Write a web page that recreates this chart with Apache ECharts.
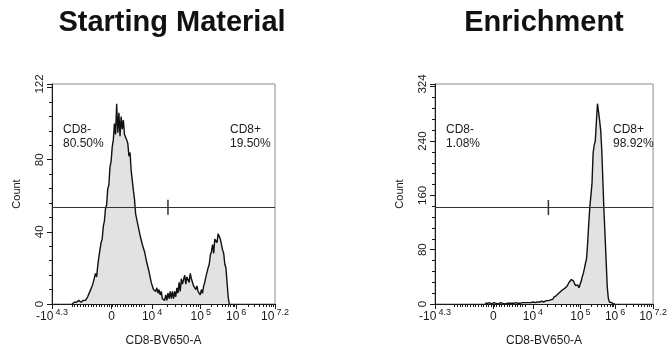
<!DOCTYPE html>
<html lang="en">
<head>
    <meta charset="UTF-8">
    <title>CD8 histograms</title>
    <script src="https://cdn.jsdelivr.net/npm/echarts@6/dist/echarts.min.js"></script>
    <style>
        html, body { margin: 0; padding: 0; background: #fff; }
        #charts { width: 670px; height: 352px; }
    </style>
</head>
<body>
<div id="charts"></div>
<script>
    var chart = echarts.init(document.getElementById('charts'));

    // channel scale 0..1000, bins of 5 channels
    var binWidth = 5;
    var leftStart = 90;
    var leftCounts = [
        0, 1, 1, 0, 1, 1, 2, 1, 1, 2,
        2, 1, 2, 3, 4, 5, 7, 6, 10, 12,
        13, 17, 15, 21, 26, 27, 34, 36, 43, 46,
        53, 55, 64, 66, 76, 79, 87, 91, 100, 94,
        111, 95, 106, 93, 104, 97, 102, 94, 95, 91,
        89, 82, 84, 74, 73, 63, 58, 50, 50, 44,
        44, 38, 38, 33, 33, 29, 28, 23, 22, 18,
        17, 12, 10, 8, 9, 7, 9, 6, 8, 5,
        7, 3, 4, 2, 5, 2, 6, 3, 7, 3,
        7, 3, 7, 4, 9, 6, 12, 7, 14, 11,
        12, 16, 11, 15, 15, 12, 17, 14, 13, 10,
        11, 8, 10, 7, 8, 5, 8, 6, 10, 12,
        15, 16, 20, 22, 27, 29, 33, 28, 36, 35,
        34, 39, 40, 36, 35, 30, 28, 22, 20, 12,
        4, 0
    ];
    var rightStart = 230;
    var rightCounts = [
        1, 0, 1, 1, 2, 1, 0, 1, 2, 1,
        1, 1, 0, 1, 2, 1, 1, 1, 0, 1,
        1, 2, 1, 1, 1, 2, 1, 1, 2, 1,
        1, 2, 1, 1, 2, 1, 2, 1, 2, 2,
        2, 1, 2, 2, 3, 2, 2, 3, 3, 2,
        3, 3, 4, 3, 3, 4, 5, 4, 5, 6,
        6, 8, 7, 10, 9, 12, 11, 15, 14, 18,
        17, 21, 20, 23, 24, 26, 27, 32, 31, 36,
        38, 34, 30, 27, 25, 28, 24, 26, 33, 40,
        45, 52, 60, 67, 90, 118, 143, 160, 178, 222,
        234, 240, 268, 295, 283, 270, 255, 225, 180, 135,
        100, 62, 25, 8, 3, 2, 2, 1, 0, 0
    ];

    var titles = ['Starting Material', 'Enrichment'];
    var yMax = [122, 324];
    var yStep = [40, 80];
    var yLabels = [[0, 40, 80, 122], [0, 80, 160, 240, 324]];
    var gateY = [53.7, 142];
    var gateX = 520;
    var negLabels = ['CD8-\n80.50%', 'CD8-\n1.08%'];
    var posLabels = ['CD8+\n19.50%', 'CD8+\n98.92%'];

    var xTickPos = [0, 267, 449, 667, 826, 1000];
    var xTickBase = ['-10', '0', '10', '10', '10', '10'];
    var xTickExp = ['4.3', '', '4', '5', '6', '7.2'];

    // minor ticks: linear zone + log decades
    var xMinor = [];
    for (var m = 90; m <= 420; m += 12) xMinor.push(m);
    for (var d = 2; d < 5; d++) {
        for (var k = 2; k <= 9; k++) {
            xMinor.push(xTickPos[d] + (xTickPos[d + 1] - xTickPos[d]) * Math.log10(k));
        }
    }

    var font = "'Liberation Sans', Arial, sans-serif";
    var ink = '#1a1a1a';
    var grids = [
        {left: 52, top: 84, right: 395, bottom: 48},
        {left: 435, top: 84, right: 12, bottom: 48}
    ];
    var titleCenter = [172, 544];

    function toPoints(start, counts) {
        var pts = [];
        for (var i = 0; i < counts.length; i++) {
            pts.push([start + i * binWidth, counts[i]]);
        }
        return pts;
    }

    var xAxis = [], yAxis = [], series = [], graphic = [];
    for (var g = 0; g < 2; g++) {
        grids[g].show = true;
        grids[g].borderColor = '#8a8a8a';
        grids[g].borderWidth = 1;

        xAxis.push({
            type: 'value', gridIndex: g, min: 0, max: 1000, position: 'bottom',
            name: 'CD8-BV650-A', nameLocation: 'middle', nameGap: 31,
            nameTextStyle: {color: ink, fontSize: 12, fontFamily: font},
            axisLine: {lineStyle: {color: ink, width: 1}},
            axisTick: {customValues: xTickPos, length: 5, lineStyle: {color: ink}},
            splitLine: {show: false},
            axisLabel: {
                customValues: xTickPos, margin: 4, color: ink, fontFamily: font,
                formatter: function (v) {
                    var i = xTickPos.indexOf(v);
                    if (i < 0) return '';
                    return '{b|' + xTickBase[i] + '}' + (xTickExp[i] ? '{s|' + xTickExp[i] + '}' : '');
                },
                rich: {
                    b: {fontSize: 12, fontFamily: font, color: ink, lineHeight: 15, verticalAlign: 'bottom'},
                    s: {fontSize: 9, fontFamily: font, color: ink, lineHeight: 9, verticalAlign: 'top', padding: [0, 0, 0, 2]}
                }
            }
        });
        xAxis.push({
            type: 'value', gridIndex: g, min: 0, max: 1000, position: 'bottom',
            axisLine: {show: false},
            axisTick: {customValues: xMinor, length: 3, lineStyle: {color: ink}},
            axisLabel: {show: false},
            splitLine: {show: false}
        });

        yAxis.push({
            type: 'value', gridIndex: g, min: 0, max: yMax[g], interval: yStep[g],
            name: 'Count', nameLocation: 'middle', nameGap: 30,
            nameTextStyle: {color: ink, fontSize: 11, fontFamily: font},
            axisLine: {show: true, lineStyle: {color: ink, width: 1}},
            axisTick: {show: true, length: 5, lineStyle: {color: ink}},
            minorTick: {show: true, splitNumber: 5, length: 3, lineStyle: {color: ink}},
            splitLine: {show: false},
            axisLabel: {
                customValues: yLabels[g], rotate: 90, margin: 6,
                color: ink, fontSize: 11.5, fontFamily: font
            }
        });

        series.push({
            type: 'line',
            xAxisIndex: g * 2, yAxisIndex: g,
            data: g === 0 ? toPoints(leftStart, leftCounts) : toPoints(rightStart, rightCounts),
            symbol: 'none',
            lineStyle: {color: '#111', width: 1.4},
            areaStyle: {color: '#e2e2e2', opacity: 1},
            animation: false,
            markLine: {
                silent: true, symbol: 'none', animation: false,
                label: {show: false},
                lineStyle: {color: '#333', width: 1.2, type: 'solid'},
                data: [{yAxis: gateY[g]}]
            },
            markPoint: {
                silent: true, animation: false,
                symbol: 'rect', symbolSize: [1.5, 15],
                itemStyle: {color: '#333'},
                label: {show: false},
                data: [{coord: [gateX, gateY[g]]}]
            }
        });

        var gl = grids[g].left;
        graphic.push({
            type: 'text', x: titleCenter[g], y: 23,
            style: {text: titles[g], textAlign: 'center', textVerticalAlign: 'middle',
                font: 'bold 29px ' + font, fill: '#111'}
        });
        graphic.push({
            type: 'text', x: gl + 11, y: 123,
            style: {text: negLabels[g], font: '12px ' + font, fill: ink, lineHeight: 14}
        });
        graphic.push({
            type: 'text', x: gl + 178, y: 123,
            style: {text: posLabels[g], font: '12px ' + font, fill: ink, lineHeight: 14}
        });
    }

    chart.setOption({
        animation: false,
        grid: grids,
        xAxis: xAxis,
        yAxis: yAxis,
        series: series,
        graphic: graphic
    });
</script>
</body>
</html>
